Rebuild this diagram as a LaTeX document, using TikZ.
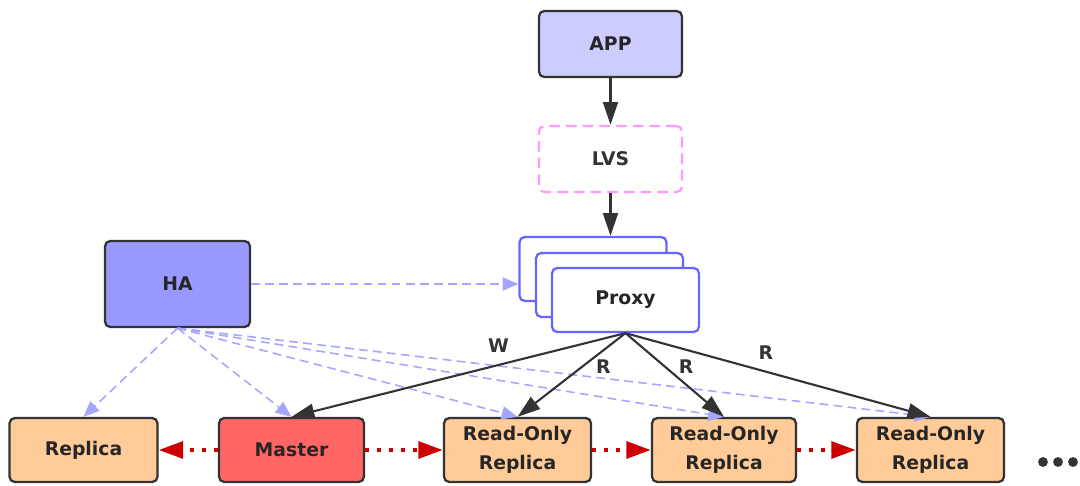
\documentclass[tikz,border=0pt]{standalone}
\usepackage{fontspec}
\setmainfont{DejaVu Sans}
\usetikzlibrary{arrows.meta}
\definecolor{edgegray}{HTML}{333333}
\definecolor{appfill}{HTML}{CCCCFF}
\definecolor{lvspink}{HTML}{FF99FF}
\definecolor{proxyblue}{HTML}{6666FF}
\definecolor{hafill}{HTML}{9999FF}
\definecolor{haline}{HTML}{A6A6FF}
\definecolor{replfill}{HTML}{FFCC99}
\definecolor{masterfill}{HTML}{FF6666}
\definecolor{syncred}{HTML}{CC0000}
\begin{document}
\begin{tikzpicture}[x=0.02cm, y=-0.02cm]
	\tikzset{
		box/.style={draw=edgegray, line width=1.3pt, rounded corners=3pt, inner sep=0pt, align=center,
			font=\fontsize{10.7}{16.5}\selectfont\bfseries, text=black!85, minimum width=2.9cm, minimum height=1.28cm},
		proxybox/.style={box, draw=proxyblue, fill=white, minimum width=2.94cm},
		flow/.style={draw=edgegray, line width=1.2pt, -{Triangle[length=13pt,width=8.5pt]}},
		hadash/.style={draw=haline, line width=0.9pt, dash pattern=on 5pt off 3pt, -{Triangle[length=9pt,width=7.5pt]}},
		sync/.style={draw=syncred, line width=2.3pt, dash pattern=on 2.3pt off 4.5pt, -{Triangle[length=14pt,width=9.5pt]}},
		rw/.style={font=\fontsize{10.7}{12}\selectfont\bfseries, text=edgegray}
	}
	\useasboundingbox (0,0) rectangle (1080,486);

	% top chain
	\node[box, fill=appfill, minimum width=2.86cm, minimum height=1.32cm] (app) at (610.5,44) {APP};
	\node[box, draw=lvspink, fill=white, dash pattern=on 6pt off 3.5pt, text=edgegray,
		minimum width=2.86cm, minimum height=1.32cm] (lvs) at (610.5,159) {LVS};
	\node[proxybox] (proxyb) at (593,269) {};
	\node[proxybox] (proxym) at (609.5,285) {};
	\node[proxybox] (proxy) at (625.5,300) {Proxy};
	\node[box, fill=hafill, minimum height=1.72cm] (ha) at (177.5,284) {HA};

	% bottom row
	\node[box, fill=replfill, minimum width=2.96cm] (replica) at (83.5,450) {Replica};
	\node[box, fill=masterfill] (master) at (291.5,450) {Master};
	\node[box, fill=replfill, minimum width=2.94cm] (ro1) at (517.5,450) {Read-Only\\Replica};
	\node[box, fill=replfill, minimum width=2.88cm] (ro2) at (724,450) {Read-Only\\Replica};
	\node[box, fill=replfill, minimum width=2.94cm] (ro3) at (930.5,450) {Read-Only\\Replica};
	\foreach \dx in {1043,1058,1073}
		\fill[edgegray] (\dx,462) circle[radius=2.8pt];

	\draw[flow] (app) -- (lvs);
	\draw[flow] (lvs.south) -- (lvs.south |- proxyb.north);

	% HA control
	\draw[hadash] (ha.east) -- (ha.east -| proxyb.west);
	\foreach \t in {replica,master,ro1,ro2,ro3}
		\draw[hadash] (ha.south) -- (\t.north);

	% proxy routing
	\draw[flow] (proxy.south) -- node[rw, pos=0.38, above=3pt] {W} (master.north);
	\draw[flow] (proxy.south) -- node[rw, pos=0.4, right=4pt] {R} (ro1.north);
	\draw[flow] (proxy.south) -- node[rw, pos=0.4, right=4pt] {R} (ro2.north);
	\draw[flow] (proxy.south) -- node[rw, pos=0.46, above=3pt] {R} (ro3.north);

	% replication
	\draw[sync] (master) -- (replica);
	\draw[sync] (master) -- (ro1);
	\draw[sync] (ro1) -- (ro2);
	\draw[sync] (ro2) -- (ro3);
\end{tikzpicture}
\end{document}
